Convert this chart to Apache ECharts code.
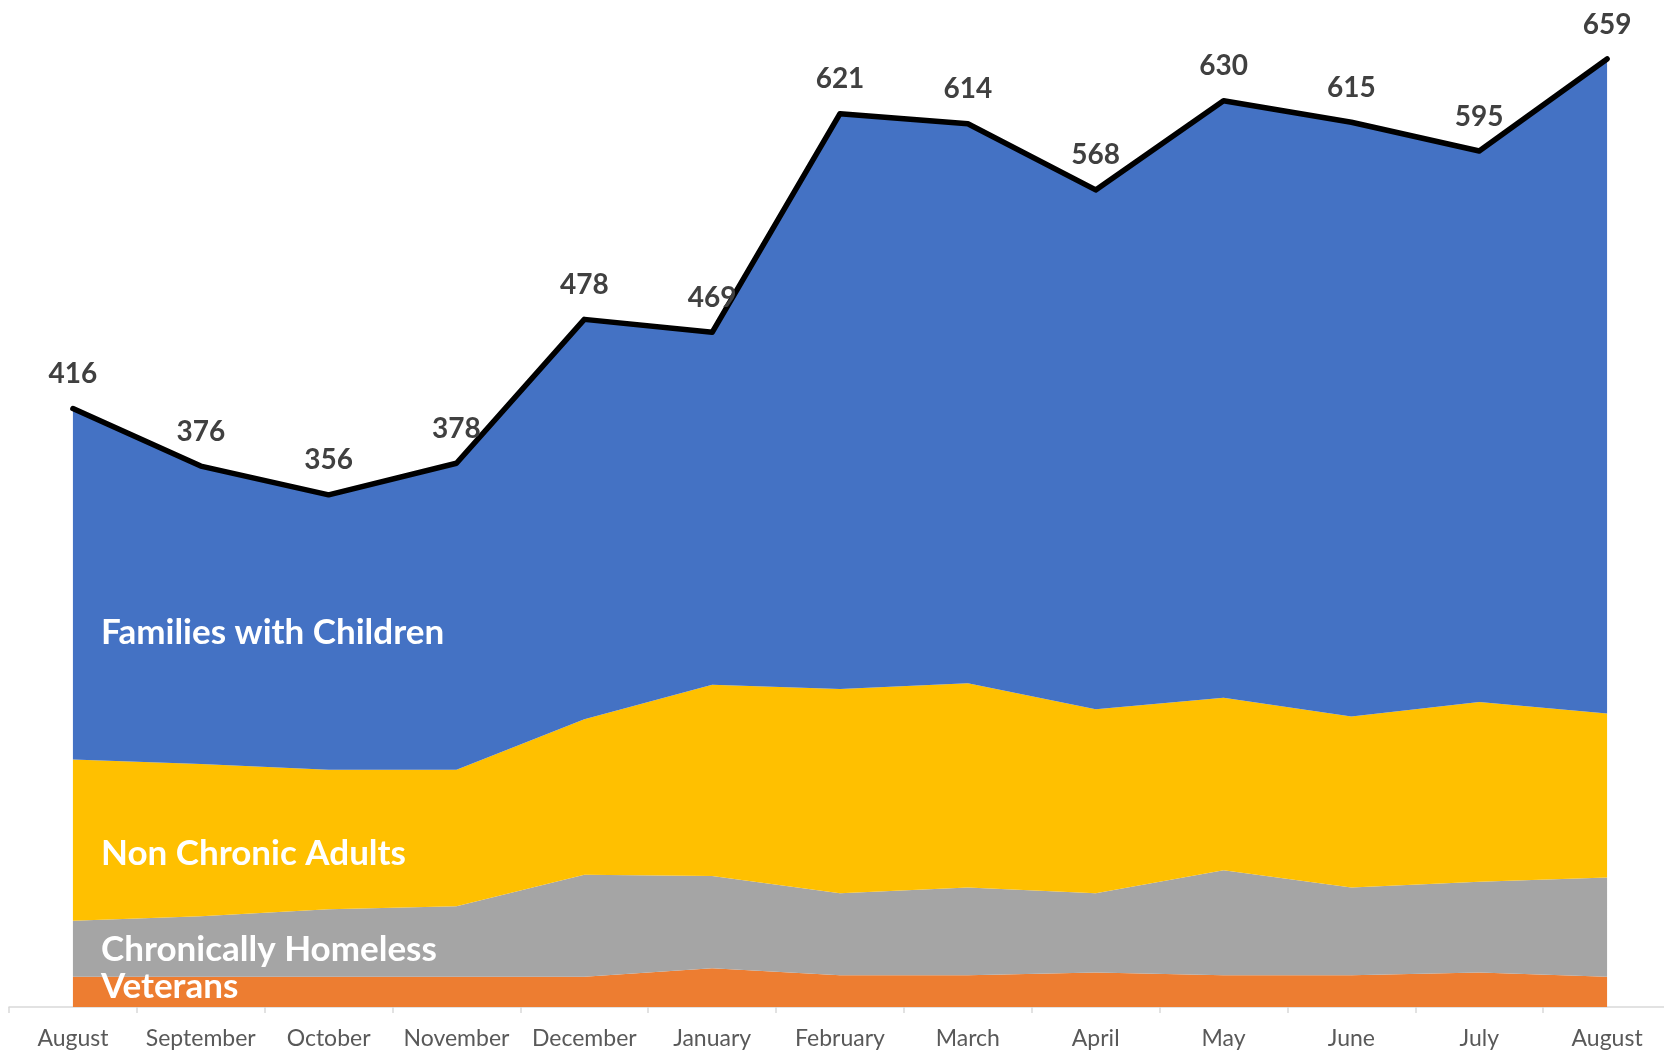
<!DOCTYPE html>
<html>
<head>
<meta charset="utf-8">
<script src="https://cdn.jsdelivr.net/npm/echarts@6/dist/echarts.min.js"></script>
<style>
html,body{margin:0;padding:0;background:#fff;overflow:hidden;}
#chart{width:1672px;height:1054px;}
</style>
</head>
<body>
<div id="chart"></div>
<script>
const months = ['August','September','October','November','December','January','February','March','April','May','June','July','August'];
const veterans = [21,21,21,21,21,27,22,22,24,22,22,24,21];
const chronicallyHomeless = [39,42,47,49,71,64,57,61,55,73,61,63,69];
const nonChronicAdults = [112,106,97,95,108,133,142,142,128,120,119,125,114];
const familiesWithChildren = [244,207,191,213,278,245,400,389,361,415,413,383,455];
const totals = [416,376,356,378,478,469,621,614,568,630,615,595,659];

const chart = echarts.init(document.getElementById('chart'));
const FONT = 'Lato, "Open Sans", sans-serif';

function areaSeries(name, data, color) {
  return {
    name: name, type: 'line', stack: 'total', data: data,
    symbol: 'none', lineStyle: {width: 0}, areaStyle: {color: color, opacity: 1},
    itemStyle: {color: color}, emphasis: {disabled: true}, silent: true
  };
}

function seriesText(text, top) {
  return {type:'text', left: 101, top: top, z: 100,
    style: {text: text, fill:'#ffffff', fontSize: 35, fontWeight: 'bold', fontFamily: FONT}};
}

chart.setOption({
  animation: false,
  grid: {left: 9, width: 1662, top: 0, bottom: 47, containLabel: false},
  xAxis: {
    type: 'category', data: months, boundaryGap: true,
    axisLine: {lineStyle: {color: '#D9D9D9', width: 1.5}},
    axisTick: {show: true, length: 6, lineStyle: {color: '#D9D9D9', width: 1.5}},
    axisLabel: {color: '#595959', fontSize: 23, fontFamily: FONT, margin: 20, interval: 0}
  },
  yAxis: {type: 'value', min: 0, max: 700, show: false, splitLine: {show: false}},
  series: [
    areaSeries('Veterans', veterans, '#ED7D31'),
    areaSeries('Chronically Homeless', chronicallyHomeless, '#A5A5A5'),
    areaSeries('Non Chronic Adults', nonChronicAdults, '#FFC000'),
    areaSeries('Families with Children', familiesWithChildren, '#4472C4'),
    {
      name: 'Total', type: 'line', data: totals, symbol: 'circle', symbolSize: 1, showSymbol: true,
      itemStyle: {color: '#000000'},
      lineStyle: {color: '#000000', width: 5.5, join: 'round', cap: 'round'},
      label: {show: true, position: 'top', distance: 20, color: '#404040',
              fontSize: 28, fontWeight: 'bold', fontFamily: FONT},
      labelLayout: {hideOverlap: false},
      z: 5, silent: true
    }
  ],
  graphic: [
    seriesText('Families with Children', 615),
    seriesText('Non Chronic Adults', 836),
    seriesText('Chronically Homeless', 932),
    seriesText('Veterans', 969)
  ]
});
</script>
</body>
</html>
